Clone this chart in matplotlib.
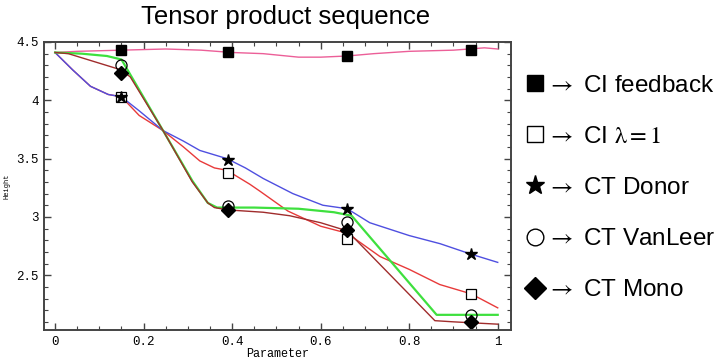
import matplotlib
matplotlib.use("Agg")
import matplotlib.pyplot as plt
from matplotlib.lines import Line2D
from matplotlib.ticker import MultipleLocator, FuncFormatter

# marker positions along the parameter axis
x_marks = [0.15, 0.39, 0.66, 0.94]
fb_marks = [4.43, 4.41, 4.38, 4.43]
lam_marks = [4.03, 3.38, 2.81, 2.34]
donor_marks = [4.03, 3.49, 3.07, 2.68]
vanleer_marks = [4.30, 3.09, 2.96, 2.16]
mono_marks = [4.23, 3.06, 2.89, 2.10]

# curves
x_fb = [0, 0.05, 0.15, 0.25, 0.33, 0.40, 0.47, 0.55, 0.60, 0.66, 0.72, 0.80, 0.90, 0.97, 1.0]
y_fb = [4.41, 4.42, 4.43, 4.44, 4.43, 4.41, 4.40, 4.37, 4.37, 4.38, 4.40, 4.42, 4.43, 4.45, 4.44]

x_donor = [0, 0.04, 0.08, 0.12, 0.15, 0.19, 0.244, 0.29, 0.327, 0.388, 0.43, 0.47, 0.537, 0.605, 0.66, 0.711, 0.80, 0.87, 0.94, 1.0]
y_donor = [4.41, 4.26, 4.12, 4.05, 4.03, 3.91, 3.74, 3.65, 3.57, 3.50, 3.42, 3.33, 3.20, 3.10, 3.07, 2.95, 2.84, 2.77, 2.68, 2.61]

x_lam = [0, 0.04, 0.08, 0.12, 0.15, 0.19, 0.244, 0.29, 0.327, 0.36, 0.388, 0.44, 0.463, 0.526, 0.60, 0.66, 0.734, 0.80, 0.869, 0.94, 1.0]
y_lam = [4.41, 4.26, 4.12, 4.05, 4.03, 3.87, 3.74, 3.60, 3.48, 3.42, 3.40, 3.28, 3.22, 3.05, 2.92, 2.86, 2.66, 2.55, 2.42, 2.34, 2.22]

x_vl = [0, 0.06, 0.117, 0.15, 0.17, 0.244, 0.31, 0.345, 0.366, 0.45, 0.55, 0.63, 0.67, 0.862, 1.0]
y_vl = [4.41, 4.40, 4.38, 4.35, 4.22, 3.74, 3.31, 3.12, 3.08, 3.08, 3.07, 3.04, 3.01, 2.16, 2.16]

x_mono = [0, 0.03, 0.15, 0.17, 0.244, 0.31, 0.345, 0.36, 0.39, 0.47, 0.53, 0.60, 0.66, 0.858, 0.90, 1.0]
y_mono = [4.41, 4.40, 4.26, 4.20, 3.74, 3.30, 3.12, 3.08, 3.06, 3.04, 3.01, 2.95, 2.88, 2.11, 2.10, 2.08]

plt.rcParams['mathtext.fontset'] = 'stix'

fig = plt.figure(figsize=(7.22, 3.6), dpi=100)
ax = fig.add_axes([44/722, 30/360, 467/722, 288/360])

ax.plot(x_fb, y_fb, color='#ec5f98', lw=1.0)
ax.plot(x_lam, y_lam, color='#e83a3a', lw=1.0)
ax.plot(x_donor, y_donor, color='#4f4fe0', lw=1.0)
ax.plot(x_vl, y_vl, color='#3ee03e', lw=1.6)
ax.plot(x_mono, y_mono, color='#a02c2c', lw=1.0)

ax.plot(x_marks, fb_marks, 's', color='black', ms=7, ls='none')
ax.plot(x_marks, lam_marks, 's', mfc='white', mec='black', mew=0.9, ms=7.5, ls='none')
ax.plot(x_marks, donor_marks, '*', color='black', ms=9, ls='none')
ax.plot(x_marks, vanleer_marks, 'o', mfc='none', mec='black', mew=0.9, ms=8, ls='none')
ax.plot(x_marks, mono_marks, 'D', color='black', ms=7, ls='none')

ax.set_xlim(-0.025, 1.03)
ax.set_ylim(2.03, 4.5)
ax.xaxis.set_major_locator(MultipleLocator(0.2))
ax.xaxis.set_minor_locator(MultipleLocator(0.05))
ax.yaxis.set_major_locator(MultipleLocator(0.5))
ax.yaxis.set_minor_locator(MultipleLocator(0.1))
fmt = FuncFormatter(lambda v, p: '%g' % round(v, 2))
ax.xaxis.set_major_formatter(fmt)
ax.yaxis.set_major_formatter(fmt)
ax.tick_params(which='both', direction='in', top=True, right=True, color='#444444')
ax.tick_params(which='major', length=5, width=1, pad=4)
ax.tick_params(which='minor', length=3, width=0.8)
for lab in ax.get_xticklabels() + ax.get_yticklabels():
    lab.set_family('Liberation Mono')
    lab.set_fontsize(9)
for s in ax.spines.values():
    s.set_color('#444444')
    s.set_linewidth(1.4)

ax.set_xlabel('Parameter', family='Liberation Mono', fontsize=8.5, labelpad=0)
ax.set_ylabel('Height', family='Liberation Mono', fontsize=5, labelpad=4)

fig.text(286/722, 1 - 17/360, 'Tensor product sequence', ha='center', va='center',
         family='Liberation Sans', fontsize=18.5)

handles = [
    Line2D([], [], marker='s', color='black', ls='none', ms=11),
    Line2D([], [], marker='s', mfc='white', mec='black', mew=1, ls='none', ms=11),
    Line2D([], [], marker='*', color='black', ls='none', ms=14),
    Line2D([], [], marker='o', mfc='white', mec='black', mew=1, ls='none', ms=12),
    Line2D([], [], marker='D', color='black', ls='none', ms=11),
]
labels = [r'$\rightarrow$ CI feedback', r'$\rightarrow$ CI $\mathrm{\lambda{=}1}$',
          r'$\rightarrow$ CT Donor', r'$\rightarrow$ CT VanLeer', r'$\rightarrow$ CT Mono']
leg = fig.legend(handles, labels, loc='center left', bbox_to_anchor=(525/722, 1 - 188/360),
                 frameon=False, borderaxespad=0, borderpad=0,
                 handlelength=0.8, handletextpad=0.1, labelspacing=1.2,
                 prop={'family': ['Liberation Sans', 'DejaVu Sans'], 'size': 17.5})

fig.savefig('out.png', dpi=100)
